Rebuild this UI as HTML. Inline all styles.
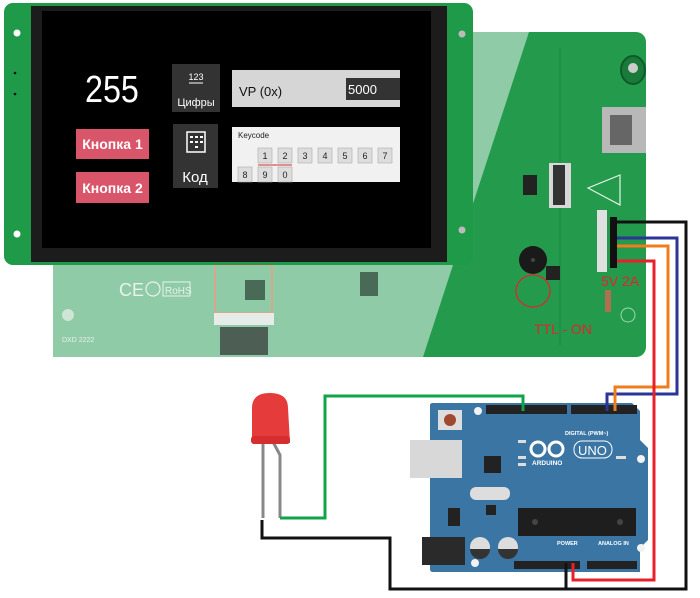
<!DOCTYPE html>
<html><head><meta charset="utf-8"><style>
html,body{margin:0;padding:0;background:#fff;width:700px;height:598px;overflow:hidden}
svg{display:block}
text{font-family:"Liberation Sans",sans-serif}
</style></head><body>
<svg width="700" height="598" viewBox="0 0 700 598" xmlns="http://www.w3.org/2000/svg">
<rect x="53" y="32" width="593" height="325" rx="10" fill="#239a4c"/>
<polygon points="53,32 529,32 423,357 53,357" fill="#8ecba6"/>
<rect x="53" y="32" width="12" height="325" fill="#8ecba6"/>
<line x1="560" y1="48" x2="560" y2="345" stroke="#1c8a42" stroke-width="1"/>
<rect x="602" y="107" width="44" height="46" fill="#b8b8b8"/>
<rect x="610" y="115" width="22" height="30" fill="#666"/>
<ellipse cx="633" cy="70" rx="12" ry="14" fill="#1a7a3a" stroke="#0f5a2a" stroke-width="2"/>
<circle cx="633" cy="68" r="5" fill="#ccc"/>
<rect x="549" y="163" width="22" height="45" fill="#d8d8d8"/>
<rect x="553" y="165" width="12" height="40" fill="#333"/>
<rect x="523" y="175" width="14" height="20" fill="#222"/>
<polygon points="588,188 620,175 620,205" fill="none" stroke="#e8f5ea" stroke-width="1.2"/>
<rect x="597" y="210" width="10" height="62" fill="#e0e0e0"/>
<rect x="610" y="217" width="7" height="51" fill="#111"/>
<circle cx="533" cy="260" r="14" fill="#1a1a1a"/>
<circle cx="533" cy="260" r="2" fill="#444"/>
<rect x="546" y="266" width="14" height="14" fill="#222"/>
<ellipse cx="533" cy="291" rx="17" ry="16" fill="none" stroke="#e0262b" stroke-width="1.3"/>
<circle cx="628" cy="315" r="7" fill="none" stroke="#9fd8b0" stroke-width="1"/>
<rect x="605" y="290" width="6" height="22" fill="#b07050"/>
<text x="601" y="286" font-size="14" fill="#e0262b">5V 2A</text>
<text x="534" y="334" font-size="14" fill="#e0262b">TTL - ON</text>
<text x="119" y="296" font-size="18" fill="#e8f3ec">CE</text>
<circle cx="153" cy="289" r="7" fill="none" stroke="#e8f3ec" stroke-width="1.2"/>
<rect x="163" y="282" width="27" height="14" fill="none" stroke="#e8f3ec" stroke-width="1"/>
<text x="165" y="294" font-size="10" fill="#e8f3ec">RoHS</text>
<rect x="215" y="265" width="57" height="48" fill="none" stroke="#d7a88c" stroke-width="2"/>
<rect x="245" y="280" width="20" height="20" fill="#4a6a58"/>
<rect x="214" y="313" width="60" height="12" fill="#e6ece8"/>
<rect x="220" y="327" width="48" height="28" fill="#4d5e55"/>
<rect x="360" y="272" width="18" height="24" fill="#4a6a58"/>
<circle cx="68" cy="315" r="6" fill="#cfe6d6"/>
<text x="62" y="342" font-size="7" fill="#e8f3ec">DXD 2222</text>
<rect x="4" y="3" width="469" height="262" rx="9" fill="#1f9a48"/>
<circle cx="17" cy="33" r="3.5" fill="#fff"/>
<circle cx="17" cy="234" r="3.5" fill="#fff"/>
<circle cx="15" cy="73" r="1.3" fill="#111"/>
<circle cx="15" cy="94" r="1.3" fill="#111"/>
<circle cx="462" cy="34" r="3.5" fill="#bbb"/>
<circle cx="462" cy="230" r="3.5" fill="#bbb"/>
<rect x="31" y="6" width="416" height="256" fill="#1c1c1c"/>
<rect x="42" y="11" width="389" height="237" fill="#000"/>
<text x="0" y="0" font-size="38" fill="#fff" transform="translate(85,102) scale(0.85,1)">255</text>
<rect x="76" y="129" width="73" height="30" fill="#d9556a"/>
<text x="112.5" y="149" font-size="14" font-weight="bold" fill="#fff" text-anchor="middle">Кнопка 1</text>
<rect x="76" y="172" width="73" height="31" fill="#d9556a"/>
<text x="112.5" y="193" font-size="14" font-weight="bold" fill="#fff" text-anchor="middle">Кнопка 2</text>
<rect x="172" y="64" width="48" height="48" fill="#333"/>
<text x="196" y="80" font-size="9" fill="#fff" text-anchor="middle">123</text>
<line x1="189" y1="83" x2="203" y2="83" stroke="#fff" stroke-width="1"/>
<text x="196" y="106" font-size="11" fill="#fff" text-anchor="middle">Цифры</text>
<rect x="173" y="124" width="45" height="64" fill="#333"/>
<rect x="187" y="132" width="18" height="20" fill="none" stroke="#fff" stroke-width="1.5"/>
<g fill="#fff"><rect x="190" y="136" width="3" height="2"/><rect x="195" y="136" width="3" height="2"/><rect x="200" y="136" width="3" height="2"/><rect x="190" y="141" width="3" height="2"/><rect x="195" y="141" width="3" height="2"/><rect x="200" y="141" width="3" height="2"/><rect x="195" y="146" width="3" height="2"/></g>
<text x="195" y="182" font-size="15" fill="#fff" text-anchor="middle">Код</text>
<rect x="232" y="70" width="168" height="37" fill="#d6d6d6"/>
<text x="239" y="96" font-size="13" fill="#111">VP (0x)</text>
<rect x="346" y="78" width="54" height="22" fill="#333"/>
<text x="348" y="94" font-size="13" fill="#fff">5000</text>
<rect x="232" y="127" width="168" height="55" fill="#f1f1f1"/>
<text x="238" y="138" font-size="8" fill="#222">Keycode</text>
<g font-size="9" fill="#222" text-anchor="middle">
<rect x="258" y="148" width="14" height="15" fill="#ddd" stroke="#aaa" stroke-width=".6"/><text x="265" y="159">1</text>
<rect x="278" y="148" width="14" height="15" fill="#ddd" stroke="#aaa" stroke-width=".6"/><text x="285" y="159">2</text>
<rect x="298" y="148" width="14" height="15" fill="#ddd" stroke="#aaa" stroke-width=".6"/><text x="305" y="159">3</text>
<rect x="318" y="148" width="14" height="15" fill="#ddd" stroke="#aaa" stroke-width=".6"/><text x="325" y="159">4</text>
<rect x="338" y="148" width="14" height="15" fill="#ddd" stroke="#aaa" stroke-width=".6"/><text x="345" y="159">5</text>
<rect x="358" y="148" width="14" height="15" fill="#ddd" stroke="#aaa" stroke-width=".6"/><text x="365" y="159">6</text>
<rect x="378" y="148" width="14" height="15" fill="#ddd" stroke="#aaa" stroke-width=".6"/><text x="385" y="159">7</text>
<rect x="238" y="167" width="14" height="15" fill="#ddd" stroke="#aaa" stroke-width=".6"/><text x="245" y="178">8</text>
<rect x="258" y="167" width="14" height="15" fill="#ddd" stroke="#aaa" stroke-width=".6"/><text x="265" y="178">9</text>
<rect x="278" y="167" width="14" height="15" fill="#ddd" stroke="#aaa" stroke-width=".6"/><text x="285" y="178">0</text>
</g>
<line x1="258" y1="165" x2="292" y2="165" stroke="#d03030" stroke-width="1"/>
<path d="M430,405 Q430,403 433,403 L632,403 L640,411 L640,440 L648,448 L648,540 L640,548 L640,572 L433,572 Q430,572 430,569 Z" fill="#3a75a3"/>
<rect x="486" y="405" width="81" height="9" fill="#222"/>
<rect x="571" y="405" width="66" height="9" fill="#222"/>
<rect x="514" y="561" width="66" height="8" fill="#222"/>
<rect x="587" y="561" width="50" height="8" fill="#222"/>
<circle cx="478" cy="411" r="4" fill="#f2f2f2"/>
<circle cx="641" cy="459" r="4" fill="#f2f2f2"/>
<circle cx="641" cy="548" r="4" fill="#f2f2f2"/>
<circle cx="475" cy="563" r="4" fill="#f2f2f2"/>
<rect x="438" y="410" width="24" height="20" fill="#ddd"/>
<circle cx="450" cy="420" r="6" fill="#a04830"/>
<rect x="410" y="440" width="52" height="38" fill="#d8d8d8"/>
<rect x="422" y="537" width="43" height="28" fill="#2a2a2a"/>
<circle cx="480" cy="547" r="10" fill="#ddd"/><path d="M470,549 a10,10 0 0 0 20,0 Z" fill="#333"/>
<circle cx="508" cy="547" r="10" fill="#ddd"/><path d="M498,549 a10,10 0 0 0 20,0 Z" fill="#333"/>
<rect x="470" y="487" width="40" height="13" rx="6" fill="#ddd"/>
<rect x="484" y="456" width="17" height="17" fill="#222"/>
<rect x="486" y="505" width="10" height="10" fill="#222"/>
<rect x="448" y="508" width="12" height="18" fill="#222"/>
<rect x="518" y="508" width="118" height="28" fill="#1e1e1e"/>
<circle cx="535" cy="522" r="3" fill="#444"/><circle cx="620" cy="522" r="3" fill="#444"/>
<circle cx="538" cy="449" r="7" fill="none" stroke="#fff" stroke-width="3"/>
<circle cx="556" cy="449" r="7" fill="none" stroke="#fff" stroke-width="3"/>
<text x="532" y="465" font-size="6.5" font-weight="bold" fill="#fff">ARDUINO</text>
<rect x="574" y="441" width="38" height="17" rx="8" fill="none" stroke="#fff" stroke-width="1"/>
<text x="578" y="455" font-size="13" fill="#fff">UNO</text>
<text x="565" y="435" font-size="5.5" font-weight="bold" fill="#fff">DIGITAL (PWM~)</text>
<text x="557" y="545" font-size="5.5" font-weight="bold" fill="#fff">POWER</text>
<text x="598" y="545" font-size="5.5" font-weight="bold" fill="#fff">ANALOG IN</text>
<rect x="616" y="456" width="10" height="3" fill="#ddd"/>
<rect x="518" y="440" width="8" height="3" fill="#ddd"/>
<rect x="518" y="456" width="8" height="3" fill="#ddd"/>
<rect x="518" y="463" width="8" height="3" fill="#ddd"/>
<line x1="263" y1="440" x2="263" y2="518" stroke="#888" stroke-width="3"/>
<polyline points="272,440 280,455 280,518" fill="none" stroke="#888" stroke-width="3"/>
<path d="M252,443 L252,408 Q252,393 270,393 Q288,393 288,408 L290,443 Z" fill="#e63b3b"/>
<rect x="251" y="436" width="39" height="8" rx="3" fill="#d42e2e"/>
<g fill="none" stroke-width="3">
<polyline points="280,518 325,518 325,396 523,396 523,411" stroke="#0fa34a"/>
<polyline points="617,222 686,222 686,589 390,589 390,538 262,538 262,520" stroke="#111"/>
<polyline points="566,589 566,563" stroke="#111"/>
<polyline points="617,238 677,238 677,394 607,394 607,411" stroke="#2b3595"/>
<polyline points="617,246 668,246 668,387 615,387 615,411" stroke="#f07c1e"/>
<polyline points="617,261 654,261 654,580 573,580 573,563" stroke="#e8202a"/>
</g>
</svg>
</body></html>
